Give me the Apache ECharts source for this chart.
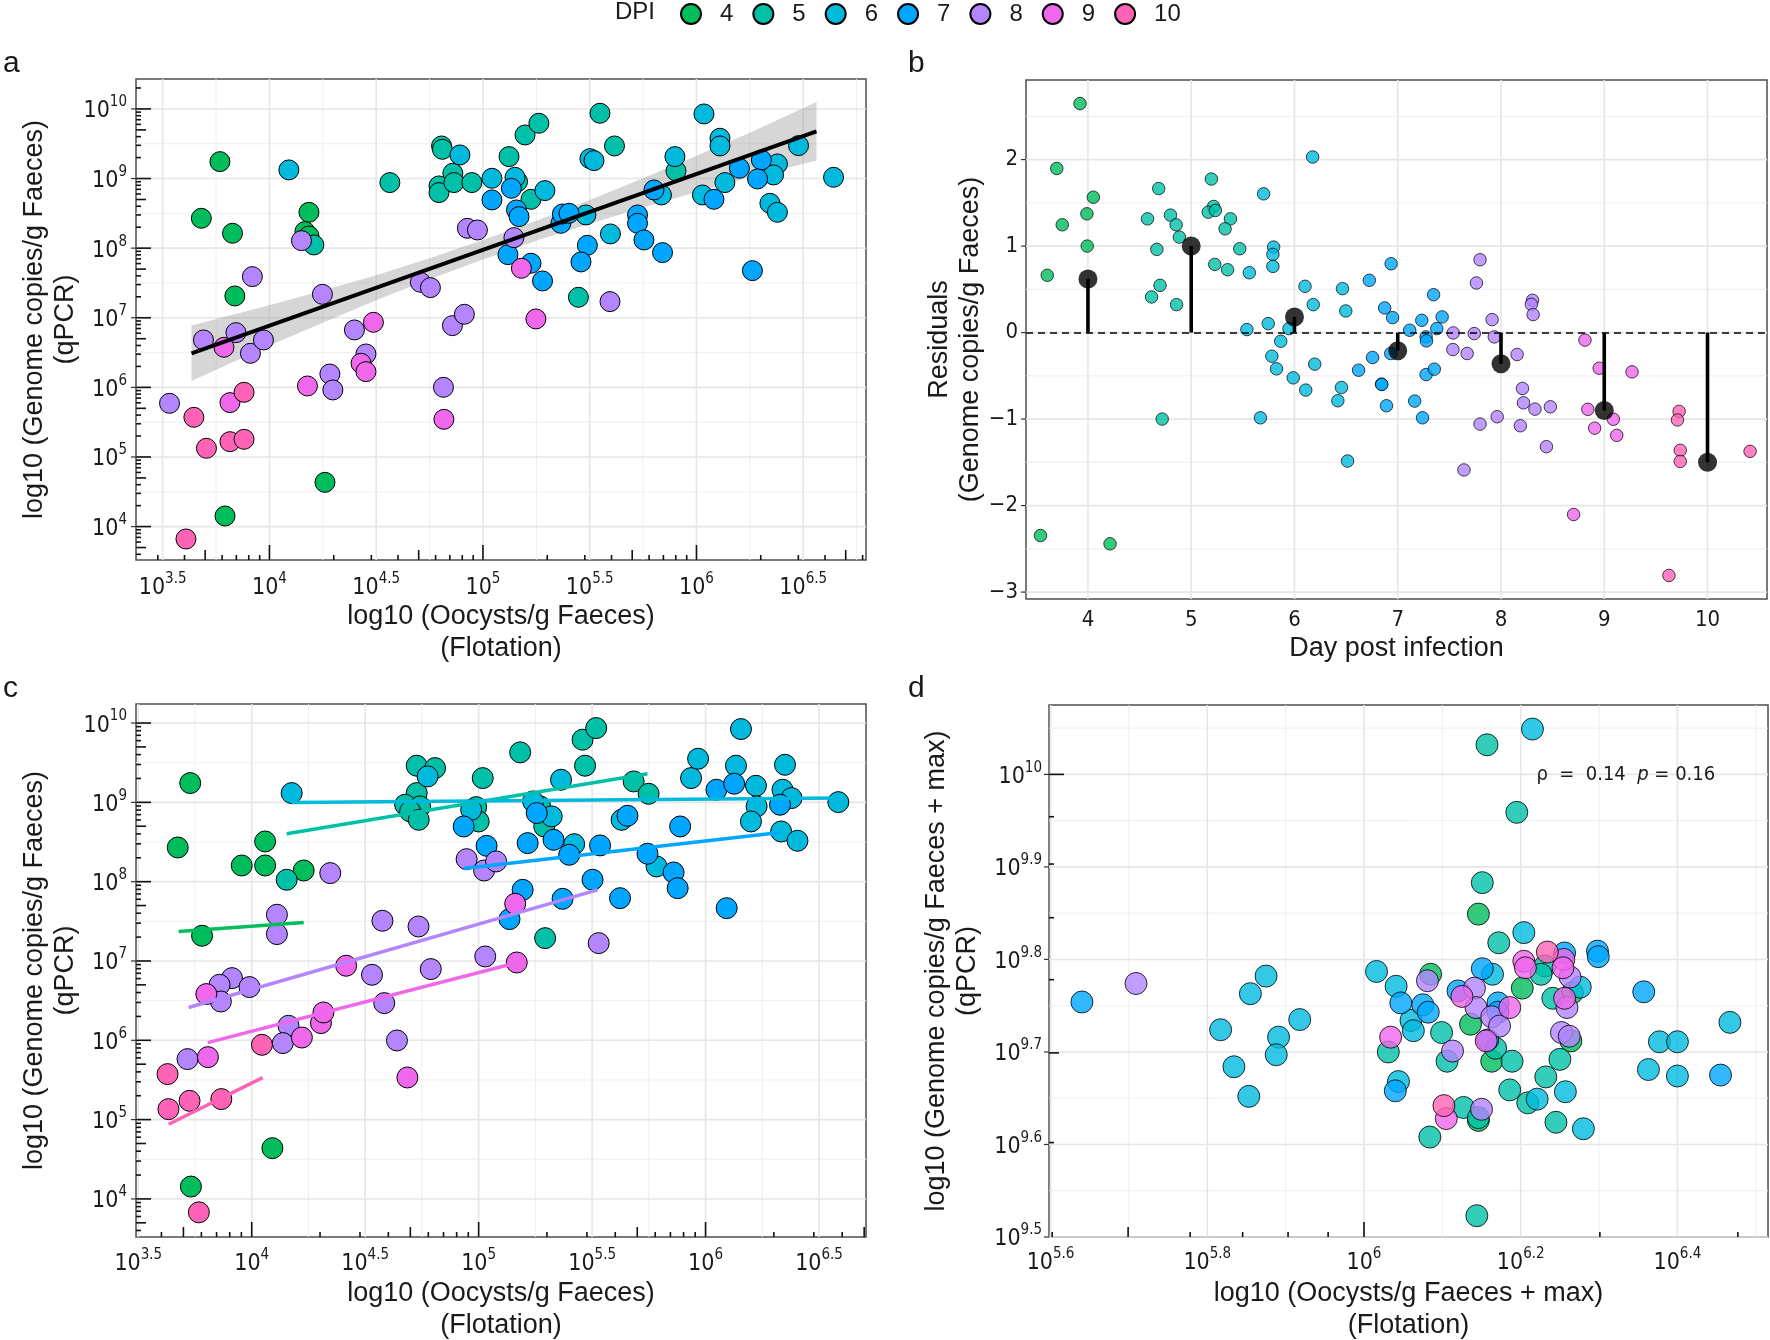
<!DOCTYPE html>
<html><head><meta charset="utf-8">
<script src="https://cdn.jsdelivr.net/npm/echarts@6/dist/echarts.min.js"></script>
<style>html,body{margin:0;padding:0;background:#fff}#c{width:1770px;height:1340px}</style>
</head><body><div id="c"></div>
<script>
// ---------- categories ----------
const dpiLevels = ['4','5','6','7','8','9','10'];
const dpiColors = ['#00BD5C','#00C1A7','#00BADE','#00A6FF','#B385FF','#EF67EB','#FF63B6'];

// ---------- panel a : [log10 oocysts, log10 genome copies] ----------
const a4 = [[3.768,9.243],[3.681,8.429],[3.827,8.214],[4.185,8.515],[4.166,8.238],[4.185,8.175],[3.838,7.313],[4.260,4.636],[3.792,4.152]];
const a5 = [[4.208,8.046],[4.564,8.942],[4.806,9.468],[4.810,9.420],[4.859,9.076],[4.794,8.894],[4.794,8.798],[4.864,8.942],[4.948,8.942],[5.122,9.315],[5.197,9.626],[5.262,9.794],[5.225,8.702],[5.162,8.956],[5.548,9.938],[5.616,9.468],[5.447,7.294],[5.904,9.109]];
const a6 = [[4.091,9.124],[4.892,9.339],[5.042,9.004],[5.150,9.018],[5.290,8.827],[5.501,9.286],[5.520,9.258],[5.482,8.477],[5.597,8.204],[5.836,8.764],[5.899,9.315],[6.035,9.928],[6.110,9.579],[6.110,9.468],[6.028,8.764],[6.133,8.942],[6.379,9.210],[6.361,9.052],[6.344,8.645],[6.379,8.515],[6.478,9.473],[6.642,9.018]];
const a7 = [[5.042,8.693],[5.133,8.860],[5.157,8.549],[5.169,8.453],[5.117,7.907],[5.225,7.783],[5.279,7.529],[5.365,8.357],[5.372,8.491],[5.403,8.501],[5.489,8.041],[5.459,7.802],[5.724,8.477],[5.724,8.357],[5.754,8.118],[5.841,7.936],[5.801,8.836],[6.082,8.702],[6.201,9.148],[6.304,9.267],[6.286,8.994],[6.262,7.677]];
const a8 = [[4.150,8.108],[3.920,7.591],[4.248,7.337],[3.691,6.681],[3.843,6.786],[3.911,6.489],[3.972,6.681],[3.532,5.771],[4.283,6.192],[4.297,5.963],[4.398,6.825],[4.452,6.480],[4.707,7.510],[4.754,7.433],[4.927,8.285],[4.974,8.261],[4.857,6.887],[4.913,7.050],[4.815,6.001],[5.145,8.151],[5.595,7.232]];
const a9 = [[3.787,6.576],[3.815,5.781],[4.178,6.020],[4.487,6.935],[4.429,6.346],[4.452,6.226],[4.817,5.541],[5.180,7.711],[5.248,6.983]];
const a10 = [[3.646,5.570],[3.881,5.929],[3.705,5.125],[3.815,5.220],[3.881,5.254],[3.609,3.822]];
const aFitX = [3.635, 6.562];
const aFitY = [6.490, 9.679];
const ribX  = [3.635,3.8,4.0,4.25,4.5,4.75,5.0,5.25,5.5,5.75,6.0,6.25,6.562];
const ribLo = [6.09,6.32,6.60,6.93,7.25,7.555,7.837,8.105,8.352,8.584,8.807,9.019,9.259];
const ribHi = [6.89,7.02,7.18,7.39,7.61,7.855,8.117,8.395,8.692,9.004,9.327,9.659,10.099];

// ---------- panel b : [day (jittered), residual] ----------
const b4 = [[3.923,2.647],[3.698,1.897],[3.751,1.246],[4.052,1.565],[3.990,1.373],[3.993,1.0],[3.606,0.662],[3.540,-2.346],[4.214,-2.442]];
const b5 = [[4.577,1.315],[4.685,1.665],[4.799,1.358],[4.854,1.246],[4.885,1.104],[4.667,0.962],[4.616,0.412],[4.698,0.546],[4.858,0.323],[4.719,-1.0],[5.195,1.775],[5.217,1.458],[5.165,1.392],[5.234,1.412],[5.380,1.315],[5.328,1.2],[5.470,0.969],[5.228,0.788],[5.352,0.727]];
const b6 = [[5.701,1.604],[5.563,0.692],[5.539,0.035],[5.746,0.104],[5.798,0.988],[5.791,0.904],[5.791,0.765],[5.670,-0.985],[5.867,-0.1],[5.781,-0.273],[5.826,-0.419],[5.947,0.046],[5.988,-0.523],[6.102,0.535],[6.182,0.323],[6.196,-0.365],[6.109,-0.665],[6.176,2.03],[6.465,0.508],[6.497,0.25],[6.455,-0.635],[6.420,-0.788],[6.514,-1.485]];
const b7 = [[6.621,-0.435],[6.725,0.604],[6.756,-0.288],[6.873,0.285],[6.843,-0.596],[6.846,-0.60],[6.891,-0.846],[6.936,0.796],[6.950,0.173],[6.932,-0.242],[7.116,0.027],[7.164,-0.792],[7.233,0.142],[7.240,-0.985],[7.275,-0.05],[7.278,-0.096],[7.275,-0.485],[7.347,0.438],[7.354,-0.423],[7.378,0.046],[7.430,0.181]];
const b8 = [[7.537,-0.004],[7.534,-0.196],[7.672,-0.242],[7.641,-1.588],[7.741,-0.012],[7.762,0.573],[7.797,0.842],[7.797,-1.058],[7.914,0.15],[7.935,-0.05],[7.963,-0.973],[8.156,-0.254],[8.208,-0.646],[8.218,-0.812],[8.187,-1.077],[8.305,0.373],[8.294,0.327],[8.311,0.208],[8.329,-0.885],[8.478,-0.858],[8.440,-1.319]];
const b9 = [[8.813,-0.087],[8.951,-0.412],[9.269,-0.454],[8.841,-0.887],[8.907,-1.105],[9.088,-1.002],[9.121,-1.188],[8.703,-2.103]];
const b10 = [[9.725,-0.911],[9.709,-1.010],[9.736,-1.361],[9.736,-1.489],[10.412,-1.373],[9.626,-2.808]];
const bMeanDay = [4,5,6,7,8,9,10];
const bMean = [0.62,1.0,0.18,-0.21,-0.36,-0.90,-1.50];

// ---------- panel c ----------
const c4 = [[3.729,9.243],[3.674,8.431],[3.956,8.204],[4.059,8.204],[4.059,8.507],[4.229,8.141],[3.781,7.318],[4.091,4.640],[3.732,4.156]];
const c5 = [[4.154,8.024],[4.727,9.462],[4.808,9.432],[4.727,9.117],[4.676,8.970],[4.742,8.949],[4.698,8.886],[4.736,8.780],[5.018,9.306],[4.989,8.940],[5.000,8.759],[5.183,9.630],[5.458,9.790],[5.518,9.937],[5.469,9.462],[5.271,8.949],[5.289,8.696],[5.293,7.288],[5.683,9.264],[5.749,9.108]];
const c6 = [[4.176,9.117],[4.775,9.327],[4.967,8.907],[5.363,9.285],[5.240,9.012],[5.322,8.823],[5.421,8.473],[5.630,8.780],[5.784,8.192],[5.936,9.306],[5.967,9.550],[6.134,9.462],[6.156,9.924],[6.222,9.209],[6.225,8.949],[6.200,8.759],[6.339,9.159],[6.350,9.474],[6.379,9.054],[6.333,8.633],[6.405,8.516],[6.585,9.003]];
const c7 = [[4.934,8.696],[5.035,8.452],[5.256,8.865],[5.216,8.486],[5.330,8.528],[5.399,8.339],[5.535,8.457],[5.656,8.831],[5.502,8.024],[5.194,7.897],[5.370,7.784],[5.623,7.792],[5.136,7.528],[5.744,8.352],[5.859,8.116],[5.877,7.918],[5.888,8.696],[6.093,7.666],[6.048,9.159],[6.126,9.235],[6.328,8.970]];
const c8 = [[4.346,8.108],[4.111,7.583],[4.111,7.339],[4.947,8.284],[5.024,8.141],[5.077,8.255],[5.529,7.225],[4.576,7.507],[4.735,7.435],[5.029,7.057],[4.789,6.898],[4.530,6.826],[3.913,6.784],[3.858,6.700],[3.864,6.489],[3.990,6.671],[4.584,6.469],[4.162,6.183],[4.137,5.965],[4.640,5.998],[3.717,5.763]];
const c9 = [[5.161,7.721],[5.168,6.981],[4.416,6.940],[3.800,6.583],[4.221,6.035],[4.305,6.217],[4.316,6.351],[4.686,5.531],[3.807,5.788]];
const c10 = [[4.045,5.943],[3.629,5.574],[3.633,5.132],[3.726,5.237],[3.866,5.259],[3.767,3.831]];
const cFit4 = [[3.678,7.372],[4.229,7.485]];
const cFit5 = [[4.154,8.604],[5.744,9.361]];
const cFit6 = [[4.176,8.999],[6.585,9.054]];
const cFit7 = [[4.934,8.167],[6.328,8.621]];
const cFit8 = [[3.722,6.413],[5.524,7.897]];
const cFit9 = [[3.806,5.971],[5.172,6.981]];
const cFit10 = [[3.634,4.941],[4.048,5.530]];

// ---------- panel d ----------
const d4 = [[6.085,9.784],[6.146,9.849],[6.202,9.769],[6.266,9.764],[6.136,9.730],[6.163,9.690],[6.264,9.712],[6.146,9.626]];
const d5 = [[6.151,9.883],[6.157,10.032],[6.195,9.959],[6.172,9.818],[6.231,9.793],[6.226,9.784],[6.241,9.758],[6.099,9.721],[6.031,9.700],[6.106,9.690],[6.168,9.704],[6.189,9.690],[6.250,9.692],[6.232,9.673],[6.186,9.659],[6.209,9.645],[6.127,9.640],[6.146,9.629],[6.144,9.523],[6.084,9.608],[6.245,9.624]];
const d6 = [[5.817,9.724],[5.855,9.763],[5.875,9.782],[5.918,9.735],[5.891,9.716],[5.888,9.697],[5.834,9.684],[5.853,9.652],[6.016,9.787],[6.041,9.771],[6.060,9.734],[6.063,9.723],[6.044,9.668],[6.164,9.784],[6.204,9.829],[6.276,9.770],[6.221,9.649],[6.257,9.657],[6.280,9.617],[6.215,10.049],[6.377,9.711],[6.400,9.711],[6.363,9.681],[6.400,9.674],[6.467,9.732]];
const d7 = [[5.640,9.754],[6.047,9.753],[6.075,9.751],[6.082,9.743],[6.040,9.658],[6.151,9.790],[6.120,9.766],[6.171,9.753],[6.171,9.743],[6.158,9.713],[6.256,9.807],[6.298,9.809],[6.299,9.803],[6.357,9.765],[6.455,9.675]];
const d8 = [[5.709,9.774],[6.081,9.777],[6.113,9.701],[6.141,9.769],[6.143,9.748],[6.163,9.738],[6.173,9.728],[6.263,9.781],[6.259,9.748],[6.252,9.721],[6.262,9.717],[6.150,9.638]];
const d9 = [[6.034,9.716],[6.125,9.760],[6.186,9.748],[6.156,9.712],[6.204,9.798],[6.206,9.791],[6.255,9.800],[6.254,9.791],[6.256,9.758],[6.105,9.628]];
const d10 = [[6.234,9.808],[6.102,9.642]];
const dAnnotPos = [6.22, 10.0];

// ---------- grid/tick positions ----------
const aVMaj = [3.5,4,4.5,5,5.5,6,6.5], aVMin = [3.75,4.25,4.75,5.25,5.75,6.25,6.75];
const aHMaj = [4,5,6,7,8,9,10], aHMin = [4.5,5.5,6.5,7.5,8.5,9.5];
const bVMaj = [4,5,6,7,8,9,10], bHMaj = [-3,-2,-1,0,1,2], bHMin = [-2.5,-1.5,-0.5,0.5,1.5,2.5];
const cVMaj = [3.5,4,4.5,5,5.5,6,6.5], cVMin = [3.75,4.25,4.75,5.25,5.75,6.25];
const cHMaj = [4,5,6,7,8,9,10], cHMin = [4.5,5.5,6.5,7.5,8.5,9.5];
const dVMaj = [5.6,5.8,6.0,6.2,6.4], dVMin = [5.7,5.9,6.1,6.3,6.5];
const dHMaj = [9.5,9.6,9.7,9.8,9.9,10.0], dHMin = [9.55,9.65,9.75,9.85,9.95,10.05];

// ---------- styles ----------
const TICK_FONT = "'Liberation Sans Narrow','Nimbus Sans Narrow','Arial Narrow','DejaVu Sans Condensed',sans-serif";
const TITLE_FONT = "'Liberation Sans',Arial,Helvetica,sans-serif";
const INK = '#1a1a1a';

function isMult(v, step){ const k = Math.round(v/step); return Math.abs(v - k*step) < 1e-6; }
function powFormatter(step){ return v => isMult(v, step) ? '{b|10}{s|' + String(+v.toFixed(2)) + '}' : ''; }
function numFormatter(step){ return v => { if (!isMult(v, step)) return ''; const r = Math.round(v); return r < 0 ? '\u2212' + Math.abs(r) : String(r); }; }
const powRich = {
  b: {fontFamily: TICK_FONT, fontSize: 23, color: INK, lineHeight: 28, verticalAlign: 'bottom'},
  s: {fontFamily: TICK_FONT, fontSize: 15, color: INK, lineHeight: 28, verticalAlign: 'top'}
};

function logTicks(lo, hi){
  const out = [];
  for (let n = Math.floor(lo) - 1; n <= Math.ceil(hi); n++) {
    for (let k = 1; k <= 9; k++) {
      const v = n + Math.log10(k);
      if (v >= lo - 1e-9 && v <= hi + 1e-9) out.push([v, k === 1 ? 15 : (k === 5 ? 10 : 5)]);
    }
  }
  return out;
}

function gridLines(gi, xr, yr, vMaj, vMin, hMaj, hMin){
  const items = [];
  vMin.forEach(v => items.push([v, yr[0], 0, 0]));
  hMin.forEach(v => items.push([xr[0], v, 1, 0]));
  vMaj.forEach(v => items.push([v, yr[0], 0, 1]));
  hMaj.forEach(v => items.push([xr[0], v, 1, 1]));
  return {
    type: 'custom', xAxisIndex: gi, yAxisIndex: gi, z: 1, silent: true, animation: false, data: items,
    renderItem: (params, api) => {
      const cs = params.coordSys;
      const p = api.coord([api.value(0), api.value(1)]);
      const kind = api.value(2), major = api.value(3);
      const shape = kind === 0
        ? {x1: p[0], y1: cs.y, x2: p[0], y2: cs.y + cs.height}
        : {x1: cs.x, y1: p[1], x2: cs.x + cs.width, y2: p[1]};
      return {type: 'line', shape, style: {stroke: major ? '#E6E6E6' : '#EFEFEF', lineWidth: major ? 1.6 : 1}};
    }
  };
}

function tickMarks(gi, xr, yr, xT, yT, yOut){
  const items = [];
  xT.forEach(t => items.push([t[0], yr[0], 0, t[1]]));
  yT.forEach(t => items.push([xr[0], t[0], 1, t[1]]));
  yOut.forEach(v => items.push([xr[0], v, 2, 5]));
  return {
    type: 'custom', xAxisIndex: gi, yAxisIndex: gi, z: 6, silent: true, animation: false, clip: false, data: items,
    renderItem: (params, api) => {
      const cs = params.coordSys;
      const p = api.coord([api.value(0), api.value(1)]);
      const kind = api.value(2), len = api.value(3);
      let shape;
      if (kind === 0) shape = {x1: p[0], y1: cs.y + cs.height, x2: p[0], y2: cs.y + cs.height - len};
      else if (kind === 1) shape = {x1: cs.x, y1: p[1], x2: cs.x + len, y2: p[1]};
      else shape = {x1: cs.x - len, y1: p[1], x2: cs.x, y2: p[1]};
      return {type: 'line', shape, style: {stroke: kind === 2 ? '#333' : '#111', lineWidth: kind === 2 ? 1.2 : 1.6}};
    }
  };
}

function scatterSet(gi, arrs, size, opacity, bw){
  return dpiLevels.map((d, i) => ({
    type: 'scatter', name: d, xAxisIndex: gi, yAxisIndex: gi, data: arrs[i], symbolSize: size, z: 3,
    silent: true, animation: false,
    itemStyle: {color: dpiColors[i], borderColor: '#000', borderWidth: bw, opacity: opacity}
  }));
}

function xAxisCfg(gi, min, max, interval, fmt, name, nameGap, margin){
  return {
    type: 'value', gridIndex: gi, min, max, interval,
    axisLine: {show: false}, axisTick: {show: false}, splitLine: {show: false},
    axisLabel: {formatter: fmt, rich: powRich, margin: margin, fontFamily: TICK_FONT, fontSize: 22, color: INK, showMinLabel: true, showMaxLabel: true},
    name, nameLocation: 'middle', nameGap, nameMoveOverlap: false,
    nameTextStyle: {fontFamily: TITLE_FONT, fontSize: 27, lineHeight: 32, color: INK}
  };
}
function yAxisCfg(gi, min, max, interval, fmt, name, nameGap, margin){
  return {
    type: 'value', gridIndex: gi, min, max, interval,
    axisLine: {show: false}, axisTick: {show: false}, splitLine: {show: false},
    axisLabel: {formatter: fmt, rich: powRich, margin: margin, fontFamily: TICK_FONT, fontSize: 22, color: INK, showMinLabel: true, showMaxLabel: true},
    name, nameLocation: 'middle', nameGap, nameRotate: 90, nameMoveOverlap: false,
    nameTextStyle: {fontFamily: TITLE_FONT, fontSize: 27, lineHeight: 31, color: INK}
  };
}

const gridBase = {show: true, borderColor: '#4d4d4d', borderWidth: 1.5, backgroundColor: 'rgba(0,0,0,0)', containLabel: false, outerBoundsMode: 'none'};
const xr = [[3.375, 6.794], [3.4, 10.576], [3.49, 6.707], [5.598, 6.5156]];
const yr = [[3.52, 10.43], [-3.08, 2.92], [3.52, 10.24], [9.5, 10.075]];

const series = [];
// panel a
series.push(gridLines(0, xr[0], yr[0], aVMaj, aVMin, aHMaj, aHMin));
series.push({
  type: 'custom', xAxisIndex: 0, yAxisIndex: 0, z: 2, silent: true, animation: false,
  data: [[ribX[0], ribLo[0]]],
  renderItem: (params, api) => {
    const pts = [];
    for (let i = 0; i < ribX.length; i++) pts.push(api.coord([ribX[i], ribHi[i]]));
    for (let i = ribX.length - 1; i >= 0; i--) pts.push(api.coord([ribX[i], ribLo[i]]));
    return {type: 'polygon', shape: {points: pts}, style: {fill: 'rgba(153,153,153,0.4)'}};
  }
});
series.push(...scatterSet(0, [a4,a5,a6,a7,a8,a9,a10], 20, 1, 1));
series.push({type: 'line', name: 'fitA', xAxisIndex: 0, yAxisIndex: 0, z: 4, silent: true, animation: false, symbol: 'none',
  data: aFitX.map((x, i) => [x, aFitY[i]]), lineStyle: {color: '#000', width: 4}});
series.push(tickMarks(0, xr[0], yr[0], logTicks(xr[0][0], xr[0][1]), logTicks(yr[0][0], yr[0][1]), aHMaj));

// panel b
series.push(gridLines(1, xr[1], yr[1], bVMaj, [], bHMaj, bHMin));
series.push(...scatterSet(1, [b4,b5,b6,b7,b8,b9,b10], 12.5, 0.8, 0.9));
series.push({
  type: 'custom', xAxisIndex: 1, yAxisIndex: 1, z: 4, silent: true, animation: false,
  data: bMeanDay.map((d, i) => [d, bMean[i]]),
  renderItem: (params, api) => {
    const p0 = api.coord([api.value(0), 0]);
    const p1 = api.coord([api.value(0), api.value(1)]);
    return {type: 'line', shape: {x1: p0[0], y1: p0[1], x2: p1[0], y2: p1[1]}, style: {stroke: '#000', lineWidth: 3.6}};
  }
});
series.push({
  type: 'scatter', name: 'means', xAxisIndex: 1, yAxisIndex: 1, z: 5, silent: true, animation: false,
  data: bMeanDay.map((d, i) => [d, bMean[i]]), symbolSize: 19, itemStyle: {color: '#000'},
  markLine: {silent: true, symbol: ['none','none'], label: {show: false}, animation: false,
    lineStyle: {color: '#000', width: 1.7, type: [7, 5]}, data: [{yAxis: 0}]}
});
series.push(tickMarks(1, xr[1], yr[1], [], [], bHMaj));

// panel c
series.push(gridLines(2, xr[2], yr[2], cVMaj, cVMin, cHMaj, cHMin));
series.push(...scatterSet(2, [c4,c5,c6,c7,c8,c9,c10], 21, 1, 1));
[cFit4,cFit5,cFit6,cFit7,cFit8,cFit9,cFit10].forEach((f, i) => series.push({
  type: 'line', name: 'fit' + dpiLevels[i], xAxisIndex: 2, yAxisIndex: 2, z: 4, silent: true, animation: false,
  symbol: 'none', data: f, lineStyle: {color: dpiColors[i], width: 3.5}
}));
series.push(tickMarks(2, xr[2], yr[2], logTicks(xr[2][0], xr[2][1]), logTicks(yr[2][0], yr[2][1]), cHMaj));

// panel d
series.push(gridLines(3, xr[3], yr[3], dVMaj, dVMin, dHMaj, dHMin));
series.push(...scatterSet(3, [d4,d5,d6,d7,d8,d9,d10], 22, 0.8, 1));
series.push(tickMarks(3, xr[3], yr[3], logTicks(xr[3][0], xr[3][1]), logTicks(yr[3][0], yr[3][1]), dHMaj));
series.push({
  type: 'custom', xAxisIndex: 3, yAxisIndex: 3, z: 7, silent: true, animation: false,
  data: [dAnnotPos],
  renderItem: (params, api) => {
    const p = api.coord([api.value(0), api.value(1)]);
    return {type: 'text', x: p[0], y: p[1], style: {
      text: '{n|\u03C1  =  0.14  }{i|p}{n| = 0.16}',
      rich: {n: {fontFamily: TICK_FONT, fontSize: 20, fill: INK}, i: {fontFamily: TICK_FONT, fontSize: 20, fontStyle: 'italic', fill: INK}},
      align: 'left', verticalAlign: 'middle', fill: INK}};
  }
});

const option = {
  animation: false,
  backgroundColor: '#fff',
  textStyle: {fontFamily: TITLE_FONT},
  legend: {
    data: dpiLevels.map(n => ({name: n, icon: 'circle'})),
    left: 680, top: 2, padding: 0, itemWidth: 20, itemHeight: 20, itemGap: 19, selectedMode: false,
    textStyle: {fontFamily: TITLE_FONT, fontSize: 24, color: INK, padding: [0, 0, 0, 14]}
  },
  graphic: [
    {type: 'text', x: 615, y: 12, style: {text: 'DPI', font: '24px ' + TITLE_FONT, fill: INK, verticalAlign: 'middle'}},
    {type: 'text', x: 3, y: 64, style: {text: 'a', font: '30px ' + TITLE_FONT, fill: INK, verticalAlign: 'middle'}},
    {type: 'text', x: 908, y: 64, style: {text: 'b', font: '30px ' + TITLE_FONT, fill: INK, verticalAlign: 'middle'}},
    {type: 'text', x: 3, y: 689, style: {text: 'c', font: '30px ' + TITLE_FONT, fill: INK, verticalAlign: 'middle'}},
    {type: 'text', x: 908, y: 689, style: {text: 'd', font: '30px ' + TITLE_FONT, fill: INK, verticalAlign: 'middle'}}
  ],
  grid: [
    Object.assign({left: 136, top: 79, width: 730, height: 481}, gridBase),
    Object.assign({left: 1026, top: 80, width: 741, height: 519}, gridBase),
    Object.assign({left: 136, top: 704, width: 730, height: 533}, gridBase),
    Object.assign({left: 1049, top: 705, width: 719, height: 532}, gridBase)
  ],
  xAxis: [
    xAxisCfg(0, xr[0][0], xr[0][1], 0.125, powFormatter(0.5), 'log10 (Oocysts/g Faeces)\n(Flotation)', 41, 12),
    xAxisCfg(1, xr[1][0], xr[1][1], 0.1, numFormatter(1), 'Day post infection', 34, 10),
    xAxisCfg(2, xr[2][0], xr[2][1], 0.01, powFormatter(0.5), 'log10 (Oocysts/g Faeces)\n(Flotation)', 41, 11),
    xAxisCfg(3, xr[3][0], xr[3][1], 0.002, powFormatter(0.2), 'log10 (Oocysts/g Faeces + max)\n(Flotation)', 41, 10)
  ],
  yAxis: [
    yAxisCfg(0, yr[0][0], yr[0][1], 0.04, powFormatter(1), 'log10 (Genome copies/g Faeces)\n(qPCR)', 55, 9),
    yAxisCfg(1, yr[1][0], yr[1][1], 0.02, numFormatter(1), 'Residuals\n(Genome copies/g Faeces)', 40, 8),
    yAxisCfg(2, yr[2][0], yr[2][1], 0.04, powFormatter(1), 'log10 (Genome copies/g Faeces)\n(qPCR)', 55, 9),
    yAxisCfg(3, yr[3][0], yr[3][1], 0.1, powFormatter(0.1), 'log10 (Genome copies/g Faeces + max)\n(qPCR)', 66, 7)
  ],
  series
};

const chart = echarts.init(document.getElementById('c'), null, {renderer: 'canvas'});
chart.setOption(option);
</script>
</body></html>
